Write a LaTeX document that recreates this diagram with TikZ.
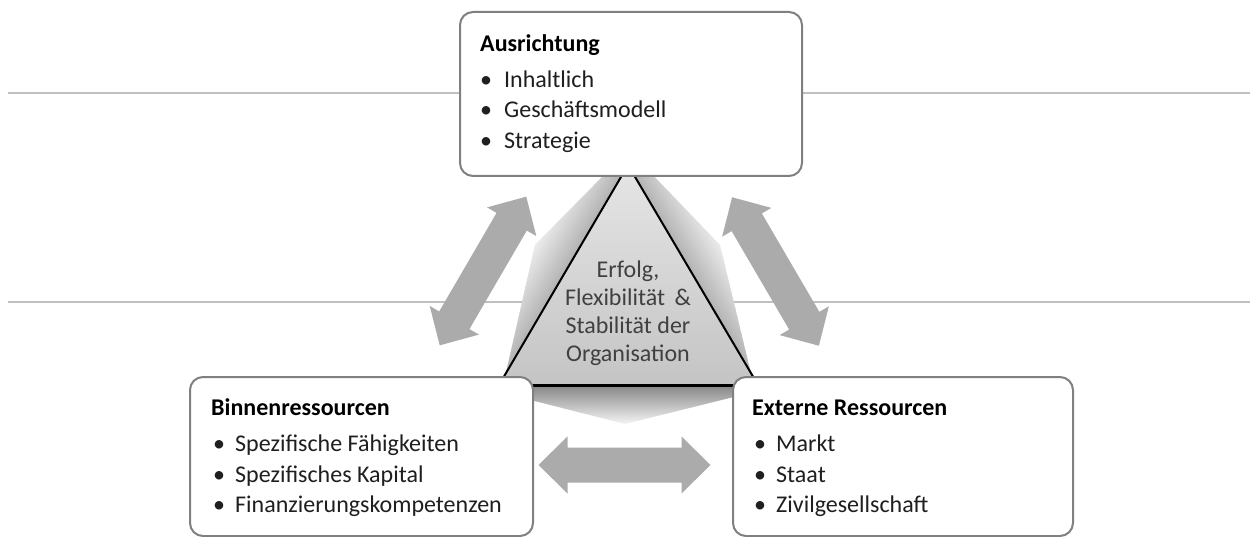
\documentclass[tikz,border=0pt]{standalone}
\usepackage{fontspec}
\setmainfont{Carlito}
\usetikzlibrary{calc}
\definecolor{linegray}{HTML}{C0C0C0}
\definecolor{boxborder}{HTML}{808080}
\definecolor{arrowgray}{HTML}{ABABAB}
\definecolor{txtgray}{HTML}{404040}
\begin{document}
\begin{tikzpicture}[x=1pt,y=-1pt,
  box/.style={draw=boxborder, line width=2pt, fill=white, rounded corners=13pt, anchor=north west, inner sep=0pt},
  boxtitle/.style={anchor=base west, inner sep=0pt, font=\fontsize{24}{29}\selectfont\bfseries},
  item/.style={anchor=base west, inner sep=0pt, font=\fontsize{24}{29}\selectfont, text=black!88},
  dblarr/.pic={\fill[arrowgray] (-86,0) -- (-57,-28.5) -- (-57,-17.5) -- (57,-17.5) -- (57,-28.5) -- (86,0) -- (57,28.5) -- (57,17.5) -- (-57,17.5) -- (-57,28.5) -- cycle;}
]
\useasboundingbox (0,0) rectangle (1250,537);
\fill[white] (0,0) rectangle (1250,537);
% guide lines
\draw[linegray, line width=1.3pt] (8,93) -- (1250,93);
\draw[linegray, line width=1.3pt] (8,302) -- (1250,302);
% left bevel
\begin{scope}
\clip (612,167) -- (535,245) -- (503,386) -- (499,386) -- (628,165) -- cycle;
\foreach \t in {0,1,...,44} {
  \pgfmathsetmacro\c{30-25*\t/44}
  \draw[black!\c, line width=1.4pt] ($(658,113)+(-0.863*\t,-0.506*\t)$) -- ($(469,437)+(-0.863*\t,-0.506*\t)$);
}
\end{scope}
% right bevel
\begin{scope}
\clip (645,167) -- (720,245) -- (754,386) -- (758,386) -- (628,165) -- cycle;
\foreach \t in {0,1,...,44} {
  \pgfmathsetmacro\c{30-25*\t/44}
  \draw[black!\c, line width=1.4pt] ($(597,113)+(0.861*\t,-0.509*\t)$) -- ($(789,437)+(0.861*\t,-0.509*\t)$);
}
\end{scope}
% bottom chevron
\shade[top color=black!48, bottom color=black!4] (499,385) -- (758,385) -- (758,391) -- (625,424) -- (499,392) -- cycle;
% triangle
\draw[line width=2pt, top color=black!10, bottom color=black!23, line join=round] (628,165) -- (758,385) -- (499,385) -- cycle;
\draw[line width=3pt] (499,385) -- (758,385);
\node[align=center, font=\fontsize{24}{28}\selectfont, text=txtgray, inner sep=0pt] (center) at (628,313) {Erfolg,\\Flexibilität \,\&\\Stabilität der\\Organisation};
% arrows
\coordinate (aL) at (483,271);
\coordinate (aR) at (775.5,271.5);
\coordinate (aB) at (624.5,465);
\pic[rotate=59.8] at (aL) {dblarr};
\pic[rotate=-59.7] at (aR) {dblarr};
\pic at (aB) {dblarr};
% boxes
\node[box, minimum width=342pt, minimum height=164pt] (top) at (459,11) {};
\node[box, minimum width=343pt, minimum height=159pt] (binnen) at (189,376) {};
\node[box, minimum width=340pt, minimum height=159pt] (extern) at (732,376) {};
% top box text
\node[boxtitle] (t0) at (480,52) {Ausrichtung};
\node[item] (t1) at (480,87.5) {\makebox[24pt][l]{•}Inhaltlich};
\node[item] (t2) at (480,118) {\makebox[24pt][l]{•}Geschäftsmodell};
\node[item] (t3) at (480,148.5) {\makebox[24pt][l]{•}Strategie};
% left box text
\node[boxtitle] (b0) at (211,415.5) {Binnenressourcen};
\node[item] (b1) at (213,451.5) {\makebox[22pt][l]{•}Spezifische Fähigkeiten};
\node[item] (b2) at (213,482) {\makebox[22pt][l]{•}Spezifisches Kapital};
\node[item] (b3) at (213,512.5) {\makebox[22pt][l]{•}Finanzierungskompetenzen};
% right box text
\node[boxtitle] (e0) at (752,415.5) {Externe Ressourcen};
\node[item] (e1) at (754,451.5) {\makebox[22pt][l]{•}Markt};
\node[item] (e2) at (754,482) {\makebox[22pt][l]{•}Staat};
\node[item] (e3) at (754,512.5) {\makebox[22pt][l]{•}Zivilgesellschaft};
\end{tikzpicture}
\end{document}
